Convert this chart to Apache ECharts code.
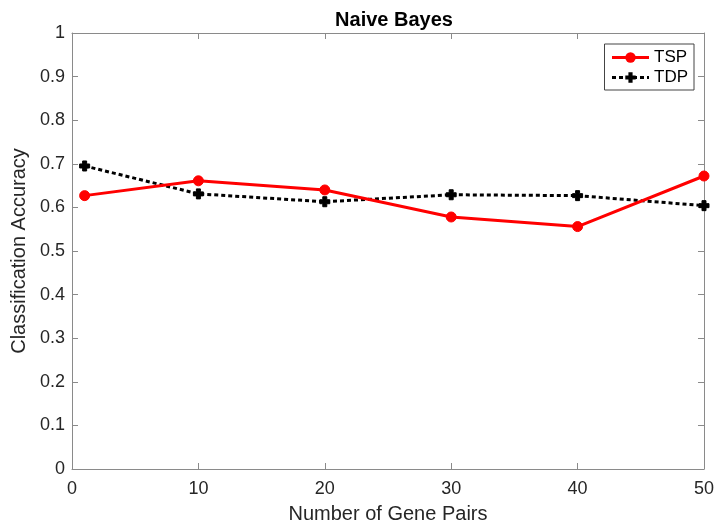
<!DOCTYPE html>
<html>
<head>
<meta charset="utf-8">
<script src="https://cdn.jsdelivr.net/npm/echarts@6/dist/echarts.min.js"></script>
<style>html,body{margin:0;padding:0;background:#fff}#c{width:717px;height:529px}</style>
</head>
<body>
<div id="c"></div>
<script>
// Number of gene pairs used by the classifier
const genePairs = [1, 10, 20, 30, 40, 50];
// Naive Bayes classification accuracy
const tspAccuracy = [0.627, 0.661, 0.640, 0.578, 0.556, 0.672];
const tdpAccuracy = [0.695, 0.631, 0.613, 0.629, 0.627, 0.604];
const xTicks = [0, 10, 20, 30, 40, 50];
const yTicks = [0, 0.1, 0.2, 0.3, 0.4, 0.5, 0.6, 0.7, 0.8, 0.9, 1];

const font = 'Liberation Sans, Arial, Helvetica, sans-serif';
const axisGray = '#8a8a8a';
const textDark = '#262626';
const plusPath = 'path://M3,0 H7 V3 H10 V7 H7 V10 H3 V7 H0 V3 H3 Z';

const chart = echarts.init(document.getElementById('c'), null, { renderer: 'canvas' });

function axisBase(ticks, step) {
  return {
    type: 'value', min: ticks[0], max: ticks[ticks.length - 1], interval: step,
    axisLine: { show: true, onZero: false, lineStyle: { color: axisGray, width: 1 } },
    axisTick: { show: true, inside: true, length: 6, lineStyle: { color: axisGray } },
    splitLine: { show: false }
  };
}

chart.setOption({
  animation: false,
  backgroundColor: '#fff',
  title: {
    text: 'Naive Bayes', left: 389, top: 5, textAlign: 'center',
    textStyle: { fontFamily: font, fontWeight: 'bold', fontSize: 20, color: '#000' }
  },
  legend: {
    data: [
      { name: 'TSP', lineStyle: { width: 3 } },
      { name: 'TDP', lineStyle: { width: 3 } }
    ],
    orient: 'vertical', right: 23, top: 44,
    itemWidth: 37, itemHeight: 13, itemGap: 3,
    padding: [5, 6, 4, 6],
    backgroundColor: '#fff', borderColor: '#444', borderWidth: 1,
    textStyle: { fontFamily: font, fontSize: 17, color: '#000' }
  },
  grid: { left: 72, right: 13, top: 33, bottom: 59, containLabel: false },
  xAxis: [
    Object.assign(axisBase(xTicks, 10), {
      position: 'bottom',
      name: 'Number of Gene Pairs', nameLocation: 'middle', nameGap: 35,
      nameTextStyle: { fontFamily: font, fontSize: 20, color: textDark },
      axisLabel: { fontFamily: font, fontSize: 18, color: textDark, margin: 11,
        formatter: v => String(v) }
    }),
    Object.assign(axisBase(xTicks, 10), { position: 'top', axisLabel: { show: false } })
  ],
  yAxis: [
    Object.assign(axisBase(yTicks, 0.1), {
      position: 'left',
      name: 'Classification Accuracy', nameLocation: 'middle', nameGap: 39,
      nameTextStyle: { fontFamily: font, fontSize: 20, color: textDark },
      axisLabel: { fontFamily: font, fontSize: 18, color: textDark, margin: 7,
        formatter: v => String(Math.round(v * 10) / 10) }
    }),
    Object.assign(axisBase(yTicks, 0.1), { position: 'right', axisLabel: { show: false } })
  ],
  series: [
    {
      name: 'TSP', type: 'line', xAxisIndex: 0, yAxisIndex: 0,
      data: genePairs.map((x, i) => [x, tspAccuracy[i]]),
      lineStyle: { color: '#ff0000', width: 3 },
      itemStyle: { color: '#ff0000', borderColor: '#ff0000' },
      symbol: 'circle', symbolSize: 10, showSymbol: true, z: 3
    },
    {
      name: 'TDP', type: 'line', xAxisIndex: 0, yAxisIndex: 0,
      data: genePairs.map((x, i) => [x, tdpAccuracy[i]]),
      lineStyle: { color: '#000', width: 3, type: [4, 3] },
      itemStyle: { color: '#000', borderColor: '#000' },
      symbol: plusPath, symbolSize: 10, showSymbol: true, z: 2
    }
  ]
});
</script>
</body>
</html>
